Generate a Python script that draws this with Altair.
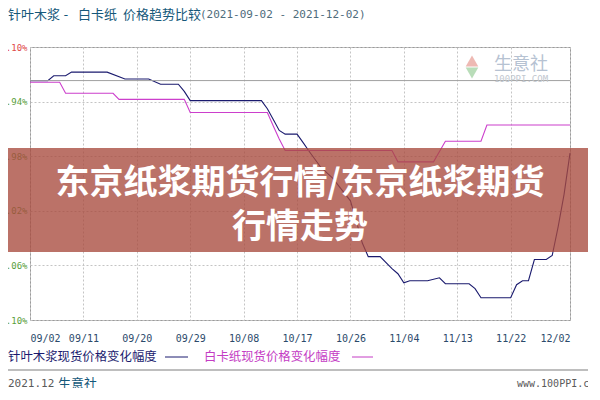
import altair as alt
import pandas as pd

# ---- data ----
nav_dates = ["2021-09-02","2021-09-05","2021-09-06","2021-09-08","2021-09-09","2021-09-15",
             "2021-09-18","2021-09-22","2021-09-24","2021-09-27","2021-09-28","2021-09-29",
             "2021-10-11","2021-10-12","2021-10-13","2021-10-14","2021-10-15","2021-10-17",
             "2021-10-18","2021-10-19","2021-10-21","2021-10-23","2021-10-26","2021-10-27",
             "2021-10-28","2021-10-29","2021-10-31","2021-11-02","2021-11-03","2021-11-04",
             "2021-11-05","2021-11-08","2021-11-10","2021-11-11","2021-11-15","2021-11-16",
             "2021-11-17","2021-11-22","2021-11-23","2021-11-24","2021-11-25","2021-11-26",
             "2021-11-28","2021-11-29","2021-11-30","2021-12-01","2021-12-02"]
nav_values = [0.0, 0.0, 0.44, 0.44, 0.78, 0.78,
              0.15, 0.15, -0.34, -0.34, -1.0, -1.85,
              -1.85, -2.6, -3.6, -4.6, -4.94, -4.94,
              -5.7, -6.5, -8.0, -9.0, -11.1, -13.0,
              -15.0, -16.25, -16.25, -17.36, -17.83, -18.66,
              -18.47, -18.47, -18.2, -18.75, -18.75, -19.2,
              -20.04, -20.04, -18.84, -18.47, -18.47, -16.52,
              -16.52, -16.15, -13.5, -10.5, -6.7]

mag_dates = ["2021-09-02","2021-09-07","2021-09-08","2021-09-16","2021-09-17","2021-09-28",
             "2021-09-29","2021-10-12","2021-10-13","2021-10-14","2021-10-15","2021-11-02",
             "2021-11-03","2021-11-09","2021-11-11","2021-11-17","2021-11-18","2021-12-02"]
mag_values = [-0.15, -0.15, -1.17, -1.17, -1.73, -1.73,
              -2.94, -2.94, -4.2, -5.4, -6.45, -6.45,
              -7.5, -7.5, -5.6, -5.6, -4.1, -4.1]

series_names = ["针叶木浆现货价格变化幅度", "白卡纸现货价格变化幅度"]
series_colors = ["#1a1a6e", "#cc3fcc"]

y_ticks = [-22.10, -19.58, -17.06, -14.54, -12.02, -9.50, -6.98, -4.46, -1.94, 0.58, 3.10]
x_ticks = [(9, 2), (9, 11), (9, 20), (9, 29), (10, 8), (10, 17), (10, 26),
           (11, 4), (11, 13), (11, 22), (12, 2)]

title_main = ["针叶木浆", "-", "白卡纸", "价格趋势比较"]
title_dates = "(2021-09-02 - 2021-12-02)"
overlay_lines = ["东京纸浆期货行情/东京纸浆期货", "行情走势"]
footer_left = ["2021.12", "生意社"]
footer_right = "www.100PPI.com"
watermark = ["生意社", "100PPI.COM"]

# ---- build table ----
df = pd.concat([
    pd.DataFrame({"date": nav_dates, "value": nav_values, "series": series_names[0]}),
    pd.DataFrame({"date": mag_dates, "value": mag_values, "series": series_names[1]}),
])

W, H = 540, 273
CJK = "Noto Sans CJK SC"
MONO = "DejaVu Sans Mono"

def dt(m, d):
    return alt.DateTime(year=2021, month=m, date=d, utc=True)

x_enc = alt.X("date:T",
              scale=alt.Scale(type="utc", domain=[dt(9, 2), dt(12, 2)], nice=False),
              axis=alt.Axis(values=[dt(m, d) for m, d in x_ticks],
                            labelExpr="utcFormat(datum.value, '%m/%d')",
                            title=None, labelFont=MONO, labelFontSize=10,
                            labelColor="#2b4a6b", labelPadding=13, ticks=False, domain=False,
                            grid=True, gridDash=[2, 2], gridColor="#c4c4c4",
                            labelOverlap=False))
y_enc = alt.Y("value:Q",
              scale=alt.Scale(domain=[-22.10, 3.10], nice=False, zero=False),
              axis=alt.Axis(values=y_ticks, title=None, labelFont=MONO, labelFontSize=9,
                            labelExpr="abs(datum.value - 0.58) < 0.01 ? '' : format(datum.value, '.2f') + '%'",
                            labelColor=alt.ExprRef(expr="datum.value > 0 ? '#e04a4a' : '#5a9e3c'"),
                            labelPadding=3, ticks=False, domain=False, grid=True,
                            gridDash=[2, 2], gridColor="#c4c4c4"))

lines = alt.Chart(df).mark_line(strokeWidth=1.1, interpolate="linear").encode(
    x=x_enc, y=y_enc,
    color=alt.Color("series:N", scale=alt.Scale(domain=series_names, range=series_colors),
                    legend=None),
    detail="series:N",
)

zero = alt.Chart(pd.DataFrame({"z": [0]})).mark_rule(color="#a0a0a0", strokeWidth=1).encode(
    y=alt.Y("z:Q"))

one = alt.Data(values=[{"k": 1}])

def txt(s, x, y, size, color, font=CJK, align="left", weight="normal", baseline="middle"):
    return alt.Chart(one).mark_text(align=align, baseline=baseline, font=font, fontSize=size,
                                    color=color, fontWeight=weight).encode(
        x=alt.value(x), y=alt.value(y), text=alt.value(s))

def hrule(x1, x2, y, color, width=1):
    return alt.Chart(one).mark_rule(color=color, strokeWidth=width).encode(
        x=alt.value(x1), x2=alt.value(x2), y=alt.value(y))

# watermark (page coords -> plot coords: x-30, y-47)
wm_up = alt.Chart(one).mark_point(shape="triangle-up", filled=True, color="#eaa8a0",
                                  size=160, opacity=0.8).encode(x=alt.value(442), y=alt.value(14))
wm_dn = alt.Chart(one).mark_point(shape="triangle-down", filled=True, color="#a8d4a8",
                                  size=160, opacity=0.8).encode(x=alt.value(442), y=alt.value(26))
wm1 = txt(watermark[0], 491, 18, 18, "#b6c2d2", align="center")
wm2 = txt(watermark[1], 491, 32, 9, "#c2c8d0", font=MONO, align="center")

band = alt.Chart(one).mark_rect(color="#a84a3e", opacity=0.78).encode(
    x=alt.value(-22), x2=alt.value(570), y=alt.value(101), y2=alt.value(205))
ov1 = txt(overlay_lines[0], 270, 137, 34, "white", align="center", weight="bold")
ov2 = txt(overlay_lines[1], 270, 181, 34, "white", align="center", weight="bold")

# title
t1 = txt(title_main[0], -22, -32, 13, "#15587a")
t2 = txt(title_main[1], 36, -32, 13, "#15587a", font=MONO, align="center")
t3 = txt(title_main[2], 48, -32, 13, "#15587a")
t4 = txt(title_main[3], 93, -32, 13, "#15587a")
t5 = txt(title_dates, 170, -32, 11, "#4f6c7c", font=MONO)

# legend
lg1 = txt(series_names[0], -22, 310, 12.4, series_colors[0])
lg1r = hrule(135, 158, 310, series_colors[0])
lg2 = txt(series_names[1], 174, 310, 12.4, "#c43cc4")
lg2r = hrule(322, 343, 310, "#c43cc4")

# footer
fl = hrule(-22, 570, 323, "#a8a8a8", 1.5)
f1 = txt(footer_left[0], -22, 337, 11, "#5a5a5a", font=MONO)
f2 = txt(footer_left[1], 28, 337, 13, "#15587a")
f3 = txt(footer_right, 487, 337, 10, "#5a5a5a", font=MONO)

chart = alt.layer(
    lines, zero, wm_up, wm_dn, wm1, wm2, band, ov1, ov2,
    t1, t2, t3, t4, t5, lg1, lg1r, lg2, lg2r, fl, f1, f2, f3,
).properties(
    width=W, height=H,
    autosize=alt.AutoSizeParams(type="none"),
    padding={"left": 22, "top": 39, "right": 18, "bottom": 68},
    background="white",
).configure_view(stroke="#9a9a9a", strokeWidth=1)

chart.save("out.html", embed_options={"renderer": "svg", "actions": False})
